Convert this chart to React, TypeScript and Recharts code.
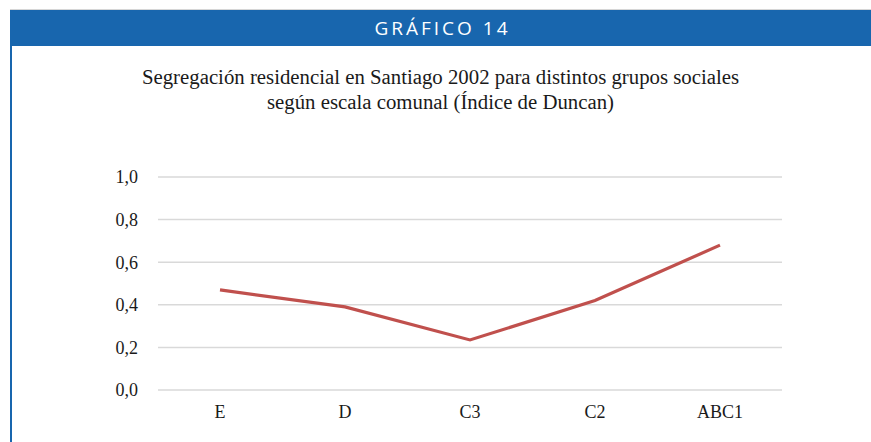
import React from 'react';
import { LineChart, Line, XAxis, YAxis, CartesianGrid } from 'recharts';

const groups = ['E', 'D', 'C3', 'C2', 'ABC1'];
const duncanIndex = [0.47, 0.39, 0.235, 0.42, 0.68];
const yTicks = [0, 0.2, 0.4, 0.6, 0.8, 1.0];

const data = groups.map((g, i) => ({ group: g, value: duncanIndex[i] }));

const serif = '"Liberation Serif", "DejaVu Serif", serif';

const App: React.FC = () => {
  return (
    <div style={{ position: 'absolute', left: 0, top: 0, width: 871, height: 442, background: '#fff', overflow: 'hidden' }}>
      <div style={{ position: 'absolute', left: 10, top: 9, width: 861, height: 1, background: '#d6d6d6' }} />
      <div
        style={{
          position: 'absolute', left: 10, top: 10, width: 861, height: 36, background: '#1866AE',
          color: '#fff', fontFamily: '"Open Sans", sans-serif', fontSize: 19, letterSpacing: 3,
          display: 'flex', alignItems: 'center', justifyContent: 'center', paddingLeft: 4, boxSizing: 'border-box',
        }}
      >
        GRÁFICO 14
      </div>
      <div style={{ position: 'absolute', left: 10, top: 46, width: 2, height: 396, background: '#1866AE' }} />
      <div
        style={{
          position: 'absolute', left: 10, top: 64, width: 871 - 10, textAlign: 'center',
          fontFamily: serif, fontSize: 20.8, lineHeight: '25px', color: '#1a1a1a',
        }}
      >
        Segregación residencial en Santiago 2002 para distintos grupos sociales
        <br />
        según escala comunal (Índice de Duncan)
      </div>
      <div style={{ position: 'absolute', left: 0, top: 0 }}>
        <LineChart width={871} height={442} data={data} margin={{ top: 177, right: 89, left: 98, bottom: 22 }}>
          <CartesianGrid vertical={false} stroke="#d9d9d9" strokeWidth={1.5} />
          <XAxis
            dataKey="group"
            axisLine={false}
            tickLine={false}
            height={30}
            tickMargin={9}
            padding={{ left: 62, right: 62 }}
            tick={{ fill: '#1a1a1a', fontSize: 18, fontFamily: serif }}
          />
          <YAxis
            domain={[0, 1]}
            ticks={yTicks}
            width={60}
            axisLine={false}
            tickLine={false}
            tickMargin={14}
            tickFormatter={(v: number) => v.toFixed(1).replace('.', ',')}
            tick={{ fill: '#1a1a1a', fontSize: 18, fontFamily: serif }}
          />
          <Line
            type="linear"
            dataKey="value"
            stroke="#C0504D"
            strokeWidth={3.2}
            dot={false}
            isAnimationActive={false}
          />
        </LineChart>
      </div>
    </div>
  );
};

export default App;
